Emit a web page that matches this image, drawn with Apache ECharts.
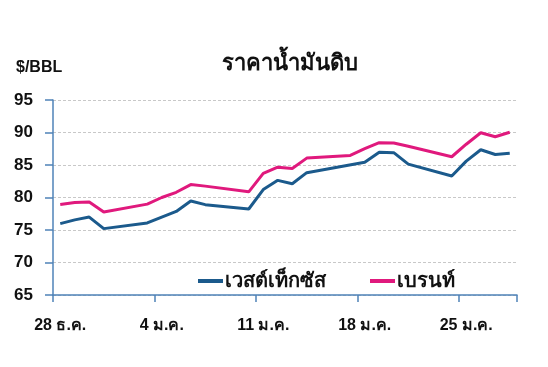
<!DOCTYPE html>
<html><head><meta charset="utf-8">
<script src="https://cdn.jsdelivr.net/npm/echarts@6/dist/echarts.min.js"></script>
<style>html,body{margin:0;padding:0;background:#fff}#c{width:548px;height:367px}</style>
</head><body><div id="c"></div>
<script>
const days = ['28 ธ.ค.','29 ธ.ค.','30 ธ.ค.','31 ธ.ค.','1 ม.ค.','2 ม.ค.','3 ม.ค.','4 ม.ค.','5 ม.ค.','6 ม.ค.','7 ม.ค.','8 ม.ค.','9 ม.ค.','10 ม.ค.','11 ม.ค.','12 ม.ค.','13 ม.ค.','14 ม.ค.','15 ม.ค.','16 ม.ค.','17 ม.ค.','18 ม.ค.','19 ม.ค.','20 ม.ค.','21 ม.ค.','22 ม.ค.','23 ม.ค.','24 ม.ค.','25 ม.ค.','26 ม.ค.','27 ม.ค.','28 ม.ค.'];
const wti = [75.98,76.56,76.99,75.21,null,null,76.08,76.99,77.85,79.46,78.90,null,null,78.23,81.22,82.64,82.12,83.82,null,null,null,85.43,86.96,86.90,85.14,null,null,83.31,85.60,87.35,86.61,86.82];
const brent = [78.94,79.23,79.32,77.78,null,null,78.98,80.00,80.80,81.99,81.75,null,null,80.87,83.72,84.67,84.47,86.06,null,null,86.48,87.51,88.44,88.38,87.89,null,null,86.27,88.20,89.96,89.34,90.03];
const seriesNames = ['เวสต์เท็กซัส','เบรนท์'];
const titleText = 'ราคาน้ำมันดิบ';
const unitText = '$/BBL';

const chart = echarts.init(document.getElementById('c'), null, {renderer:'canvas'});
const font = 'Liberation Sans, Arial, sans-serif';
const axisColor = '#4f83b8';
chart.setOption({
  animation:false,
  backgroundColor:'#fff',
  title:[
    {text:titleText,left:285,top:48,textAlign:'center',textStyle:{fontFamily:font,fontSize:22,fontWeight:'bold',color:'#111'}},
    {text:unitText,left:11,top:55,textStyle:{fontFamily:font,fontSize:16,fontWeight:'bold',color:'#111'}}
  ],
  legend:{
    left:193,top:266,itemWidth:25,itemHeight:4,itemGap:44,icon:'rect',
    textStyle:{fontFamily:font,fontSize:20,fontWeight:'bold',color:'#111',padding:[0,0,0,-3]},
    data:seriesNames
  },
  grid:{left:53,right:31,top:100,bottom:72},
  xAxis:{
    type:'category',data:days,boundaryGap:true,
    axisLine:{lineStyle:{color:axisColor,width:1.5}},
    axisTick:{show:true,interval:6,length:7,lineStyle:{color:axisColor,width:1.5}},
    axisLabel:{interval:6,margin:23,fontFamily:font,fontSize:16,fontWeight:'bold',color:'#111'},
    splitLine:{show:false}
  },
  yAxis:{
    type:'value',min:65,max:95,interval:5,
    axisLine:{show:true,lineStyle:{color:axisColor,width:1.5}},
    axisTick:{show:true,length:8,lineStyle:{color:axisColor,width:1.5}},
    axisLabel:{margin:20,fontFamily:font,fontSize:17,fontWeight:'bold',color:'#111'},
    splitLine:{show:true,lineStyle:{color:'#c8c8c8',type:[3,2],width:1}}
  },
  series:[
    {name:seriesNames[0],type:'line',data:wti,connectNulls:true,showSymbol:false,symbol:'none',
     lineStyle:{color:'#1b5a8c',width:3},itemStyle:{color:'#1b5a8c'}},
    {name:seriesNames[1],type:'line',data:brent,connectNulls:true,showSymbol:false,symbol:'none',
     lineStyle:{color:'#e0197d',width:3},itemStyle:{color:'#e0197d'}}
  ]
});
</script></body></html>
